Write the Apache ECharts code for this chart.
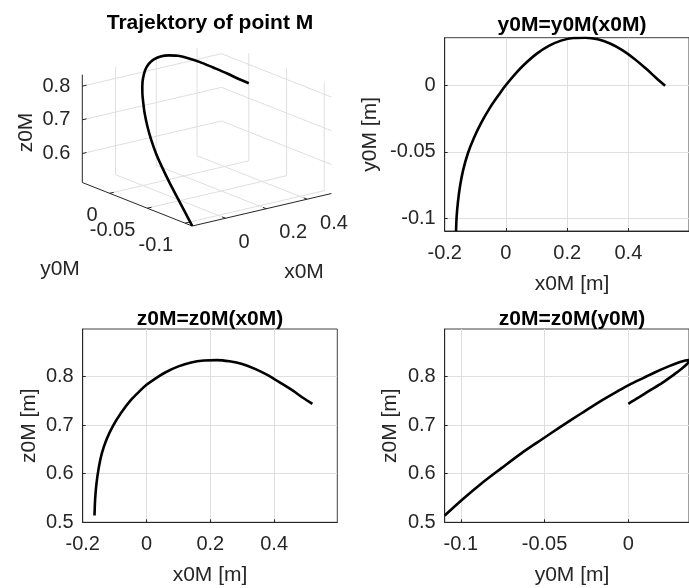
<!DOCTYPE html>
<html>
<head>
<meta charset="utf-8">
<script src="https://cdn.jsdelivr.net/npm/echarts@6/dist/echarts.min.js"></script>
<style>
html,body{margin:0;padding:0;background:#fff;}
#c{width:689px;height:588px;}
</style>
</head>
<body>
<div id="c"></div>
<script>
// ---- data (trajectory of point M) ----
const xM = [-0.163, -0.161, -0.157, -0.150, -0.140, -0.125, -0.105, -0.080, -0.050, -0.020, 0.000, 0.030, 0.060, 0.100, 0.140, 0.180, 0.220, 0.260, 0.300, 0.340, 0.380, 0.420, 0.460, 0.490, 0.520];
const yM = [-0.1096, -0.0987, -0.0882, -0.0759, -0.0639, -0.0515, -0.0396, -0.0277, -0.0158, -0.0058, 0.0005, 0.0088, 0.0160, 0.0240, 0.0300, 0.0340, 0.0360, 0.0362, 0.0350, 0.0318, 0.0268, 0.0202, 0.0124, 0.0060, 0.0000];
const zM = [0.514, 0.548, 0.5785, 0.611, 0.642, 0.671, 0.6985, 0.725, 0.751, 0.771, 0.783, 0.797, 0.809, 0.821, 0.829, 0.833, 0.834, 0.8315, 0.826, 0.816, 0.803, 0.787, 0.7705, 0.7565, 0.744];

// tick values
const xTicks = [-0.2, 0, 0.2, 0.4];
const yTicks = [-0.1, -0.05, 0];
const zTicks = [0.5, 0.6, 0.7, 0.8];
const xTicks3 = [0, 0.2, 0.4];
const yTicks3 = [-0.1, -0.05, 0];
const zTicks3 = [0.6, 0.7, 0.8];
const xLim = [-0.2, 0.598];
const zLim = [0.5, 0.898];

const titles = ['Trajektory of point M', 'y0M=y0M(x0M)', 'z0M=z0M(x0M)', 'z0M=z0M(y0M)'];
const xNames = ['x0M [m]', 'x0M [m]', 'y0M [m]'];
const yNames = ['y0M [m]', 'z0M [m]', 'z0M [m]'];
const names3 = ['x0M', 'y0M', 'z0M'];

// ---- styling / layout ----
const FONT = '"Liberation Sans", Arial, Helvetica, sans-serif';
const TXT = '#262626';
const GRIDC = '#dfdfdf';
const TICK_FS = 20, NAME_FS = 21, TITLE_FS = 21;
const fmt = v => String(Math.round(v * 10000) / 10000);

const X0 = Math.min(...xM), X1 = Math.max(...xM);
const Y0 = Math.min(...yM), Y1 = Math.max(...yM);
const Z0 = Math.min(...zM), Z1 = Math.max(...zM);

// 3D view: screen vectors of the plot box edges (pixels), orthographic
const EX = [139.2, 32.5], EY = [-110, 43.5], EZ = 107.8;
function proj(x, y, z) {
  const nx = (x - X0) / (X1 - X0), ny = (y - Y0) / (Y1 - Y0), nz = (z - Z0) / (Z1 - Z0);
  return [nx * EX[0] + ny * EY[0], nx * EX[1] + ny * EY[1] + nz * EZ];
}

const seg3 = [];
xTicks3.forEach(t => { seg3.push([...proj(t, Y0, Z0), ...proj(t, Y1, Z0)]); seg3.push([...proj(t, Y1, Z0), ...proj(t, Y1, Z1)]); });
yTicks3.forEach(t => { seg3.push([...proj(X0, t, Z0), ...proj(X1, t, Z0)]); seg3.push([...proj(X1, t, Z0), ...proj(X1, t, Z1)]); });
zTicks3.forEach(t => { seg3.push([...proj(X0, Y1, t), ...proj(X1, Y1, t)]); seg3.push([...proj(X1, Y0, t), ...proj(X1, Y1, t)]); });

const segAxis = [];
segAxis.push([...proj(X0, Y0, Z0), ...proj(X1, Y0, Z0)]);
segAxis.push([...proj(X0, Y0, Z0), ...proj(X0, Y1, Z0)]);
segAxis.push([...proj(X0, Y1, Z0), ...proj(X0, Y1, Z1)]);
const TL = 0.03;
xTicks3.forEach(t => segAxis.push([...proj(t, Y0, Z0), ...proj(t, Y0 + TL * (Y1 - Y0), Z0)]));
yTicks3.forEach(t => segAxis.push([...proj(X0, t, Z0), ...proj(X0 + TL * (X1 - X0), t, Z0)]));
zTicks3.forEach(t => segAxis.push([...proj(X0, Y1, t), ...proj(X0 + TL * (X1 - X0), Y1, t)]));

const lab3 = [];
xTicks3.forEach(t => lab3.push({ p: proj(t, Y0, Z0), text: fmt(t), align: 'left', dx: 13, dy: 24 }));
yTicks3.forEach(t => lab3.push({ p: proj(X0, t, Z0), text: fmt(t), align: 'right', dx: -12, dy: 22 }));
zTicks3.forEach(t => lab3.push({ p: proj(X0, Y1, t), text: fmt(t), align: 'right', dx: -12, dy: 0 }));

const G = [
  { left: 444.7, top: 37.7, width: 254.6, height: 193.3 },
  { left: 82.7, top: 329, width: 254.6, height: 193.3 },
  { left: 444.7, top: 329, width: 254.6, height: 193.3 },
  { left: 82.3, top: 42.2, width: 249.2, height: 183.8 }
];

function valAxis(gi, min, max, ticks, isX) {
  return {
    type: 'value', gridIndex: gi, min: min, max: max,
    axisLine: { show: true, onZero: false, lineStyle: { color: TXT, width: 1 } },
    axisTick: { show: true, inside: true, length: 3, customValues: ticks, lineStyle: { color: TXT } },
    axisLabel: { show: true, customValues: ticks, formatter: fmt, color: TXT, fontSize: TICK_FS, fontFamily: FONT, margin: isX ? 12 : 9 },
    splitLine: { show: true, lineStyle: { color: GRIDC, width: 1 } }
  };
}

function segSeries(data, color, z) {
  return {
    type: 'custom', xAxisIndex: 3, yAxisIndex: 3, silent: true, z: z,
    encode: { x: [0, 2], y: [1, 3] },
    data: data,
    renderItem: function (params, api) {
      const a = api.coord([api.value(0), api.value(1)]);
      const b = api.coord([api.value(2), api.value(3)]);
      return { type: 'line', shape: { x1: a[0], y1: a[1], x2: b[0], y2: b[1] }, style: { stroke: color, lineWidth: 1 } };
    }
  };
}

const lineStyle = { color: '#000', width: 2.6 };

const graphics = [];
const tpos = [[210, 23.5], [572, 25], [210, 319], [572, 319]];
titles.forEach((t, i) => graphics.push({ type: 'text', x: tpos[i][0], y: tpos[i][1], silent: true,
  style: { text: t, fill: '#000', font: 'bold ' + TITLE_FS + 'px ' + FONT, align: 'center', verticalAlign: 'middle' } }));
const xnPos = [[572, 284], [210, 575], [572, 575]];
xNames.forEach((t, i) => graphics.push({ type: 'text', x: xnPos[i][0], y: xnPos[i][1], silent: true,
  style: { text: t, fill: TXT, font: NAME_FS + 'px ' + FONT, align: 'center', verticalAlign: 'middle' } }));
const ynPos = [[370.5, 134.3], [29, 425.7], [390.5, 425.7]];
yNames.forEach((t, i) => graphics.push({ type: 'text', x: ynPos[i][0], y: ynPos[i][1], rotation: Math.PI / 2, silent: true,
  style: { text: t, fill: TXT, font: NAME_FS + 'px ' + FONT, align: 'center', verticalAlign: 'middle' } }));
const n3Pos = [[304, 272.5, 0], [60, 269, 0], [25.8, 132.5, Math.PI / 2]];
names3.forEach((t, i) => graphics.push({ type: 'text', x: n3Pos[i][0], y: n3Pos[i][1], rotation: n3Pos[i][2], silent: true,
  style: { text: t, fill: TXT, font: NAME_FS + 'px ' + FONT, align: 'center', verticalAlign: 'middle' } }));

const option = {
  animation: false,
  backgroundColor: '#fff',
  grid: G.map((g, i) => Object.assign({ show: i < 3, borderColor: '#404040', borderWidth: 1, backgroundColor: 'transparent', containLabel: false }, g)),
  xAxis: [
    valAxis(0, xLim[0], xLim[1], xTicks, true),
    valAxis(1, xLim[0], xLim[1], xTicks, true),
    valAxis(2, Y0, Y1, yTicks, true),
    { type: 'value', gridIndex: 3, min: EY[0], max: EX[0], show: false }
  ],
  yAxis: [
    valAxis(0, Y0, Y1, yTicks, false),
    valAxis(1, zLim[0], zLim[1], zTicks, false),
    valAxis(2, zLim[0], zLim[1], zTicks, false),
    { type: 'value', gridIndex: 3, min: 0, max: EX[1] + EY[1] + EZ, show: false }
  ],
  graphic: graphics,
  series: [
    { type: 'line', xAxisIndex: 0, yAxisIndex: 0, data: xM.map((x, i) => [x, yM[i]]), symbol: 'none', smooth: 0.3, lineStyle: lineStyle, silent: true, z: 3 },
    { type: 'line', xAxisIndex: 1, yAxisIndex: 1, data: xM.map((x, i) => [x, zM[i]]), symbol: 'none', smooth: 0.3, lineStyle: lineStyle, silent: true, z: 3 },
    { type: 'line', xAxisIndex: 2, yAxisIndex: 2, data: yM.map((y, i) => [y, zM[i]]), symbol: 'none', smooth: 0.3, lineStyle: lineStyle, silent: true, z: 3 },
    segSeries(seg3, GRIDC, 1),
    segSeries(segAxis, TXT, 2),
    { type: 'line', xAxisIndex: 3, yAxisIndex: 3, data: xM.map((x, i) => proj(x, yM[i], zM[i])), symbol: 'none', smooth: 0.3, lineStyle: lineStyle, silent: true, z: 3 },
    {
      type: 'custom', xAxisIndex: 3, yAxisIndex: 3, silent: true, z: 4,
      data: lab3.map(l => l.p),
      renderItem: function (params, api) {
        const l = lab3[params.dataIndex];
        const c = api.coord([api.value(0), api.value(1)]);
        return { type: 'text', x: c[0] + l.dx, y: c[1] + l.dy,
          style: { text: l.text, fill: TXT, font: TICK_FS + 'px ' + FONT, align: l.align, verticalAlign: 'middle' } };
      }
    }
  ]
};

const chart = echarts.init(document.getElementById('c'), null, { renderer: 'canvas', width: 689, height: 588 });
chart.setOption(option);
</script>
</body>
</html>
